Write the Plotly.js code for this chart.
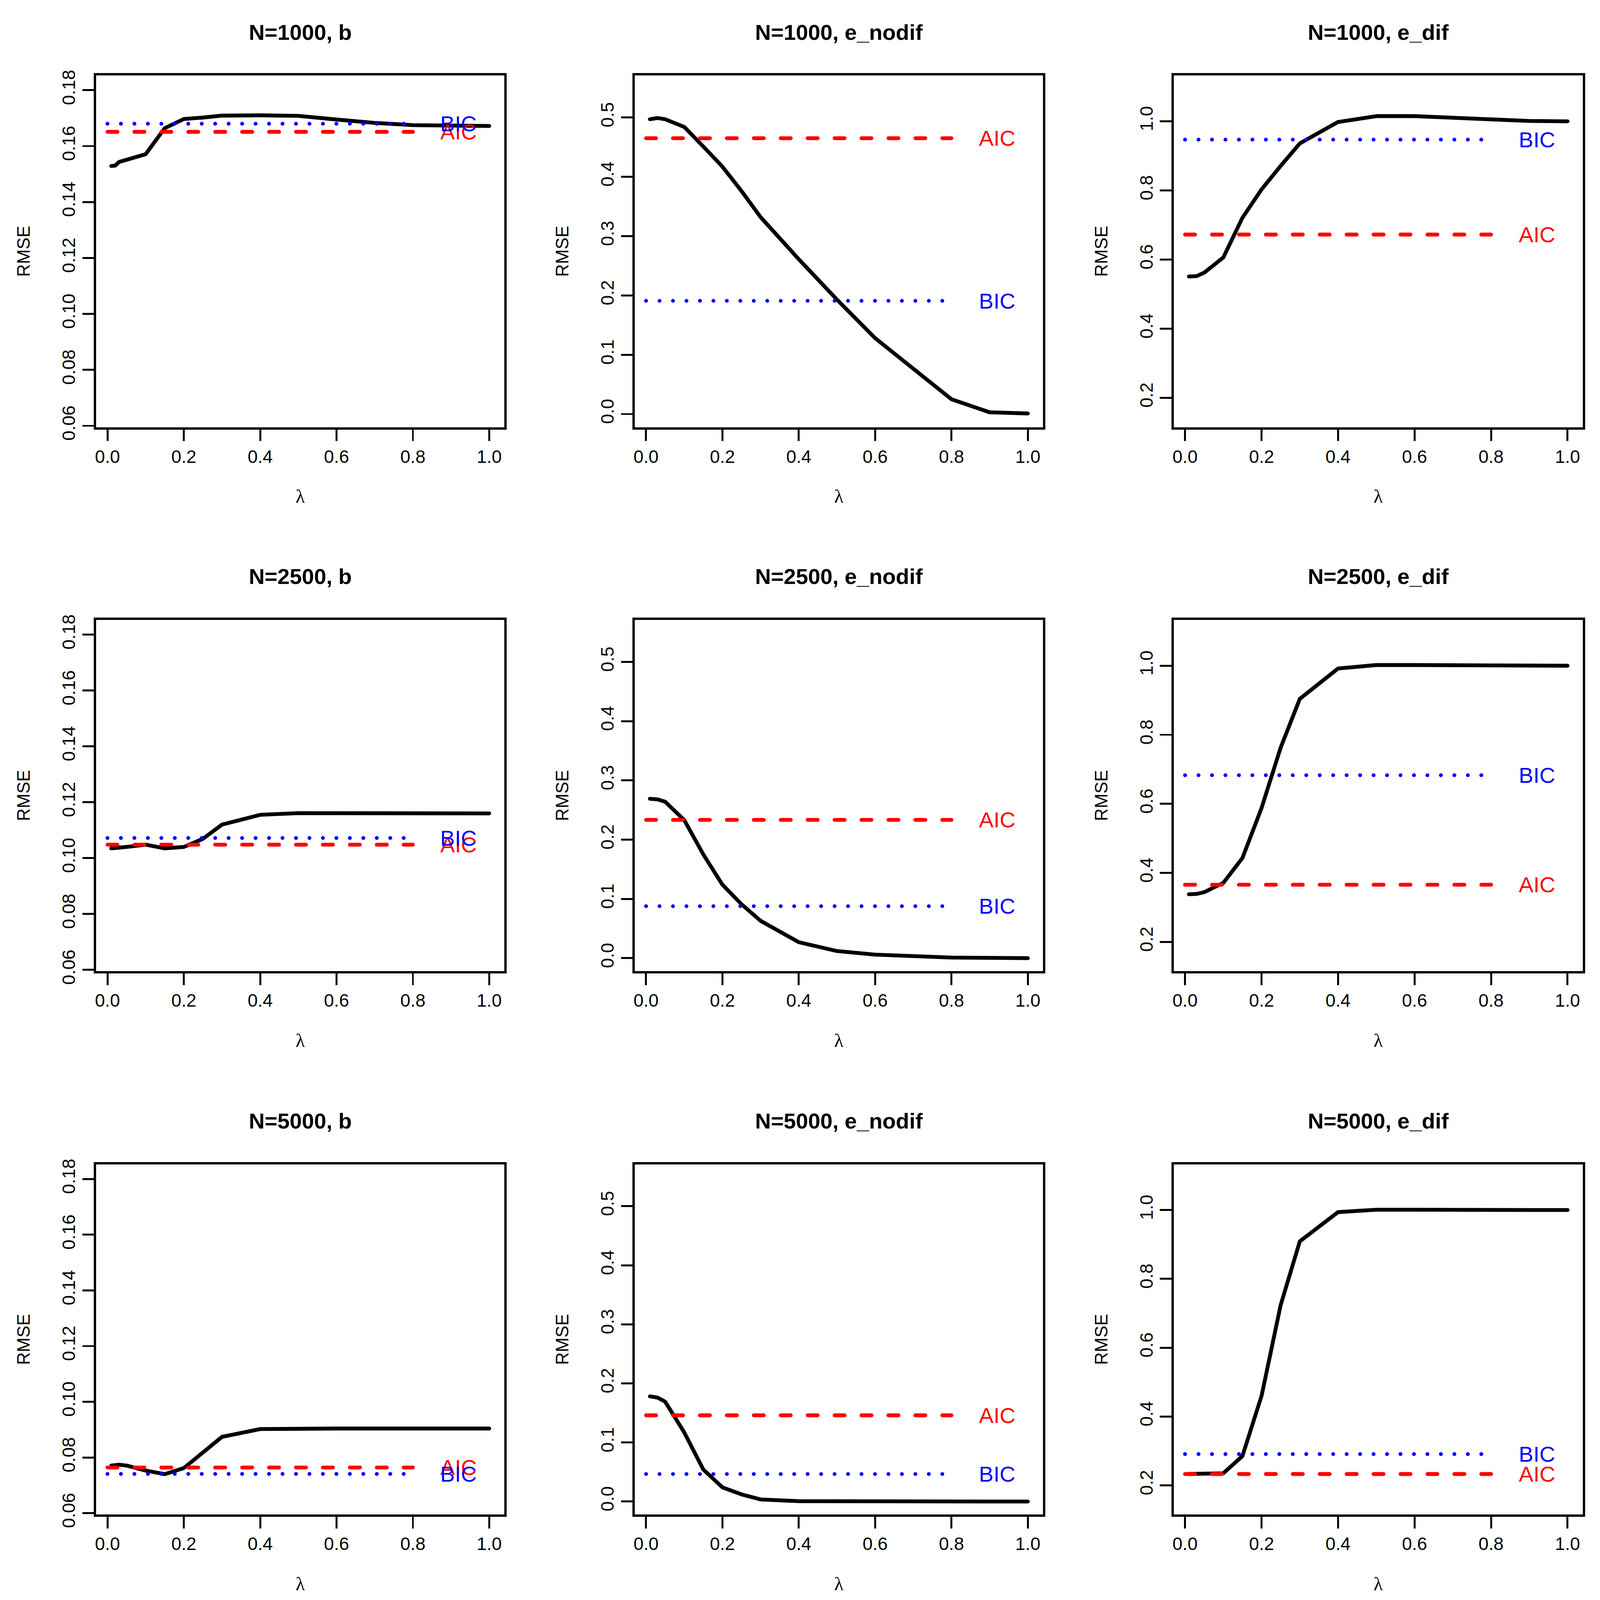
<!DOCTYPE html>
<html>
<head>
<meta charset="utf-8">
<script src="https://cdn.plot.ly/plotly-3.0.1.min.js"></script>
<style>
  html, body { margin: 0; padding: 0; background: #ffffff; overflow: hidden; }
  #chart { position: absolute; left: 0; top: 0; }
  .js-line { stroke-linecap: round; stroke-linejoin: round; }
</style>
</head>
<body>
<div id="chart"></div>
<script>
// ---------------- data ----------------
const lambda = [0.01, 0.02, 0.03, 0.05, 0.1, 0.15, 0.2, 0.25, 0.3, 0.4, 0.5, 0.6, 0.7, 0.8, 0.9, 1.0];

const sampleSizes = ["1000", "2500", "5000"];
const parameters = ["b", "e_nodif", "e_dif"];

// RMSE curves
const b_1000 = [0.1529, 0.1530, 0.1543, 0.1551, 0.1571, 0.1664, 0.1697, 0.1702, 0.1709, 0.1710, 0.1708, 0.1695, 0.1683, 0.1675, 0.1673, 0.1672];
const b_2500 = [0.1035, 0.1036, 0.1037, 0.1040, 0.1048, 0.1035, 0.1040, 0.1069, 0.1120, 0.1155, 0.1161, 0.1161, 0.1161, 0.1161, 0.1160, 0.1160];
const b_5000 = [0.0771, 0.0773, 0.0774, 0.0771, 0.0753, 0.0740, 0.0762, 0.0818, 0.0874, 0.0902, 0.0904, 0.0904, 0.0904, 0.0904, 0.0904, 0.0904];

const enodif_1000 = [0.497, 0.498, 0.499, 0.497, 0.484, 0.451, 0.417, 0.376, 0.332, 0.261, 0.193, 0.128, 0.076, 0.025, 0.003, 0.001];
const enodif_2500 = [0.269, 0.269, 0.268, 0.264, 0.233, 0.175, 0.124, 0.091, 0.063, 0.027, 0.012, 0.006, 0.003, 0.001, 0.0005, 0.0];
const enodif_5000 = [0.178, 0.177, 0.176, 0.169, 0.117, 0.054, 0.024, 0.012, 0.0035, 0.0006, 0.0002, 0.0001, 0.0, 0.0, 0.0, 0.0];

const edif_1000 = [0.551, 0.552, 0.552, 0.562, 0.606, 0.721, 0.803, 0.871, 0.936, 0.998, 1.015, 1.015, 1.010, 1.005, 1.001, 1.000];
const edif_2500 = [0.338, 0.338, 0.339, 0.344, 0.371, 0.443, 0.588, 0.763, 0.904, 0.992, 1.002, 1.002, 1.001, 1.000, 1.000, 1.000];
const edif_5000 = [0.233, 0.233, 0.233, 0.234, 0.235, 0.285, 0.460, 0.724, 0.909, 0.994, 1.001, 1.001, 1.000, 1.000, 1.000, 1.000];

// AIC / BIC reference RMSE (per N: 1000, 2500, 5000)
const aic_b = [0.1651, 0.1048, 0.0764];
const bic_b = [0.1680, 0.1072, 0.0741];
const aic_enodif = [0.465, 0.2334, 0.1459];
const bic_enodif = [0.1909, 0.0877, 0.0465];
const aic_edif = [0.6723, 0.3656, 0.2328];
const bic_edif = [0.947, 0.6828, 0.2907];

// reference line extent on the lambda axis, and label position
const refLambda = [0.0, 0.8];
const labelLambda = 0.92;

// ---------------- layout ----------------
const curves = {
  b: [b_1000, b_2500, b_5000],
  e_nodif: [enodif_1000, enodif_2500, enodif_5000],
  e_dif: [edif_1000, edif_2500, edif_5000]
};
const aic = { b: aic_b, e_nodif: aic_enodif, e_dif: aic_edif };
const bic = { b: bic_b, e_nodif: bic_enodif, e_dif: bic_edif };

const REF_W = 4159, REF_H = 4120;
const vw = window.innerWidth || REF_W;
const vh = window.innerHeight || REF_H;
const W = Math.min(vw, REF_W), H = Math.min(vh, REF_H);
const S = Math.min(W / REF_W, H / REF_H);

const colBox = [[250, 1311], [1650, 2711], [3051, 4114]];
const rowBox = [[194, 1100], [1596, 2501], [2998, 3900]];
const titleY = [83, 1484, 2886];

const yAxisSpec = {
  b: { range: [0.0595, 0.1853], tick0: 0.06, dtick: 0.02, fmt: ".2f" },
  e_nodif: { range: [-0.0221, 0.571], tick0: 0, dtick: 0.1, fmt: ".1f" },
  e_dif: { range: [0.115, 1.133], tick0: 0.2, dtick: 0.2, fmt: ".1f" }
};

const FONT = "Liberation Sans, Arial, Helvetica, sans-serif";
const tickFont = { family: FONT, size: 47 * S, color: "#000000" };

const traces = [];
const layout = {
  width: W, height: H,
  margin: { l: 0, r: 0, t: 0, b: 0, pad: 0 },
  paper_bgcolor: "#ffffff",
  plot_bgcolor: "#ffffff",
  showlegend: false,
  annotations: []
};

let k = 0;
for (let r = 0; r < 3; r++) {
  for (let c = 0; c < 3; c++) {
    k++;
    const p = parameters[c];
    const xa = "x" + (k === 1 ? "" : k);
    const ya = "y" + (k === 1 ? "" : k);
    const xKey = "xaxis" + (k === 1 ? "" : k);
    const yKey = "yaxis" + (k === 1 ? "" : k);
    const spec = yAxisSpec[p];

    layout[xKey] = {
      domain: [colBox[c][0] / REF_W, colBox[c][1] / REF_W],
      anchor: ya,
      range: [-0.0296, 1.0396],
      tickmode: "linear", tick0: 0, dtick: 0.2, tickformat: ".1f",
      showline: true, mirror: true, linecolor: "#000000", linewidth: 6 * S,
      ticks: "outside", ticklen: 30 * S, tickwidth: 5 * S, tickcolor: "#000000",
      showgrid: false, zeroline: false,
      tickfont: tickFont,
      ticklabelstandoff: 13 * S,
      title: { text: "λ", font: { family: "Liberation Serif, DejaVu Serif, serif", size: 50 * S, color: "#000000" }, standoff: 62 * S },
      automargin: false, fixedrange: true
    };
    layout[yKey] = {
      domain: [1 - rowBox[r][1] / REF_H, 1 - rowBox[r][0] / REF_H],
      anchor: xa,
      range: spec.range,
      tickmode: "linear", tick0: spec.tick0, dtick: spec.dtick, tickformat: spec.fmt,
      tickangle: -90,
      showline: true, mirror: true, linecolor: "#000000", linewidth: 6 * S,
      ticks: "outside", ticklen: 30 * S, tickwidth: 5 * S, tickcolor: "#000000",
      showgrid: false, zeroline: false,
      tickfont: tickFont,
      ticklabelstandoff: 34 * S,
      title: { text: "RMSE", font: { family: FONT, size: 46 * S, color: "#000000" }, standoff: 62 * S },
      automargin: false, fixedrange: true
    };

    traces.push({
      type: "scatter", mode: "lines", x: lambda, y: curves[p][r],
      xaxis: xa, yaxis: ya,
      line: { color: "#000000", width: 10 * S },
      hoverinfo: "skip"
    });
    traces.push({
      type: "scatter", mode: "lines", x: refLambda, y: [aic[p][r], aic[p][r]],
      xaxis: xa, yaxis: ya,
      line: { color: "#ff0000", width: 10 * S, dash: (26 * S).toFixed(2) + "px," + (44 * S).toFixed(2) + "px" },
      hoverinfo: "skip"
    });
    traces.push({
      type: "scatter", mode: "lines", x: refLambda, y: [bic[p][r], bic[p][r]],
      xaxis: xa, yaxis: ya,
      line: { color: "#0000ff", width: 10 * S, dash: "0px," + (35 * S).toFixed(2) + "px" },
      hoverinfo: "skip"
    });

    layout.annotations.push({
      xref: xa, yref: ya, x: labelLambda, y: aic[p][r], text: "AIC",
      showarrow: false, xanchor: "center", yanchor: "middle",
      font: { family: FONT, size: 57 * S, color: "#ff0000" }
    });
    layout.annotations.push({
      xref: xa, yref: ya, x: labelLambda, y: bic[p][r], text: "BIC",
      showarrow: false, xanchor: "center", yanchor: "middle",
      font: { family: FONT, size: 57 * S, color: "#0000ff" }
    });
    layout.annotations.push({
      xref: "paper", yref: "paper",
      x: (colBox[c][0] + colBox[c][1]) / 2 / REF_W,
      y: 1 - titleY[r] / REF_H,
      text: "N=" + sampleSizes[r] + ", " + p,
      showarrow: false, xanchor: "center", yanchor: "middle",
      font: { family: FONT, size: 57 * S, color: "#000000", weight: "bold" }
    });
  }
}

Plotly.newPlot("chart", traces, layout, { staticPlot: true, displayModeBar: false });
</script>
</body>
</html>
